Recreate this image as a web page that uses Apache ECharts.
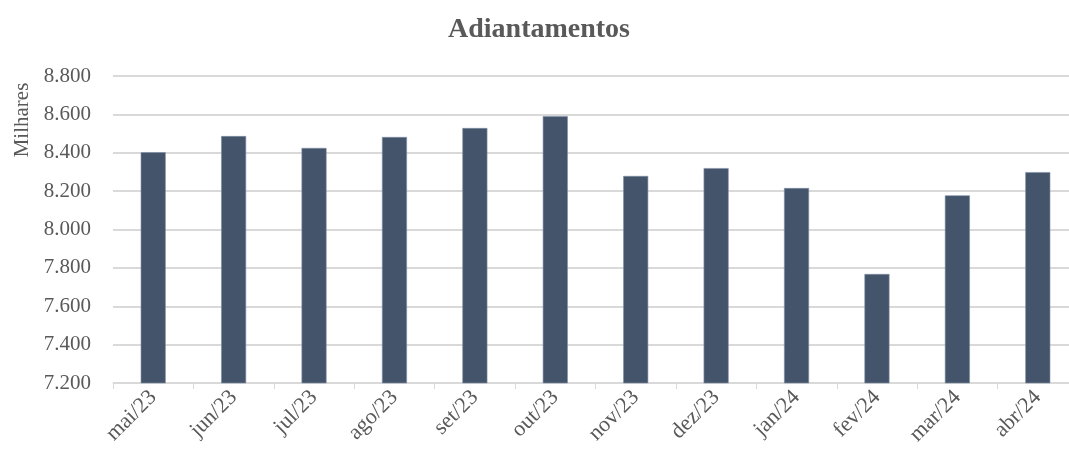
<!DOCTYPE html>
<html>
<head>
<meta charset="utf-8">
<script src="https://cdn.jsdelivr.net/npm/echarts@6/dist/echarts.min.js"></script>
<style>
  html, body { margin: 0; padding: 0; background: #fff; overflow: hidden; }
  #chart { width: 1078px; height: 460px; }
</style>
</head>
<body>
<div id="chart"></div>
<script>
// dados (milhares)
var meses = ['mai/23', 'jun/23', 'jul/23', 'ago/23', 'set/23', 'out/23',
             'nov/23', 'dez/23', 'jan/24', 'fev/24', 'mar/24', 'abr/24'];
var adiantamentos = [8403, 8487, 8425, 8482, 8529, 8591, 8279, 8320, 8216, 7768, 8178, 8299];
var eixoY = { min: 7200, max: 8800, intervalo: 200 };

var fonte = '"Liberation Serif", "DejaVu Serif", serif';
var cinza = '#595959';

function milhar(v) {
    return String(v).replace(/\B(?=(\d{3})+(?!\d))/g, '.');
}

var chart = echarts.init(document.getElementById('chart'));
chart.setOption({
    animation: false,
    title: {
        text: 'Adiantamentos',
        left: 'center',
        top: 11,
        textStyle: { fontFamily: fonte, fontSize: 28, fontWeight: 'bold', color: cinza }
    },
    grid: { left: 113, top: 76, right: 0, height: 307, containLabel: false },
    xAxis: {
        type: 'category',
        data: meses,
        axisLine: { lineStyle: { color: '#d9d9d9', width: 1 } },
        axisTick: { show: true, length: 6, alignWithLabel: false, lineStyle: { color: '#d9d9d9' } },
        axisLabel: { rotate: 45, margin: 11, fontFamily: fonte, fontSize: 22, color: cinza, interval: 0 }
    },
    yAxis: {
        type: 'value',
        min: eixoY.min,
        max: eixoY.max,
        interval: eixoY.intervalo,
        axisLine: { show: false },
        axisTick: { show: false },
        axisLabel: { margin: 22, fontFamily: fonte, fontSize: 21, color: cinza, formatter: milhar },
        splitLine: { lineStyle: { color: '#d9d9d9', width: 2 } }
    },
    graphic: [{
        type: 'text',
        x: 22,
        y: 120,
        rotation: Math.PI / 2,
        style: {
            text: 'Milhares',
            fontFamily: fonte,
            fontSize: 21,
            fill: cinza,
            align: 'center',
            verticalAlign: 'middle'
        }
    }],
    series: [{
        type: 'bar',
        data: adiantamentos,
        barWidth: 25,
        itemStyle: { color: '#44546a', borderColor: '#7f8fa6', borderWidth: 0.6 }
    }]
});
</script>
</body>
</html>
